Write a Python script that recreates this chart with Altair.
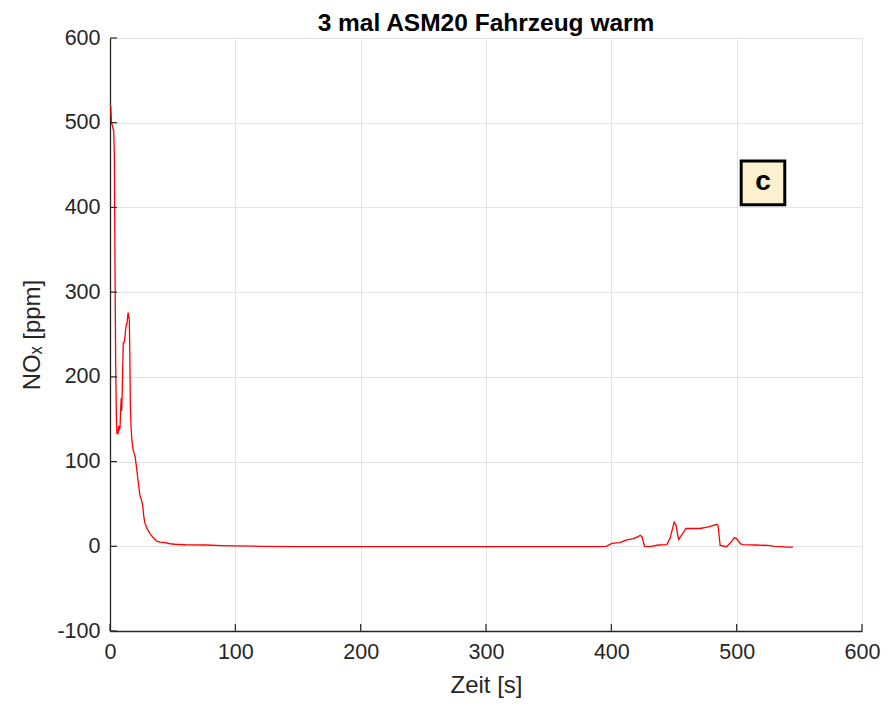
import altair as alt
import pandas as pd

# --- data ---
time_s = [0.6, 1.2, 2.3, 3.0, 3.5, 4.0, 4.5, 5.0, 5.5, 6.0, 6.4, 6.9, 7.4, 8.0, 8.6, 9.0, 9.3, 9.7,
          10.2, 10.6, 11.2, 11.8, 12.4, 13.0, 13.5, 14.0, 14.5, 15.0, 15.4, 15.8, 16.2, 16.8, 17.5,
          18.4, 19.2, 20.0, 21.0, 22.6, 23.9, 24.8, 25.9, 27.0, 27.9, 29.9, 31.9, 34.5, 37.2, 40.0,
          43.9, 47.9, 51.9, 60, 75.8, 90, 100, 120, 150, 200, 250, 300, 340, 360, 380, 390, 396,
          400.4, 407, 411, 417.6, 421, 423, 424.5, 426.5, 431, 437.6, 444.3, 447, 450.1, 451.6, 453,
          453.8, 455.4, 457.5, 459.4, 465, 470.9, 477.5, 484.2, 485.2, 486.8, 492, 496.2, 498, 500,
          502.8, 505, 515, 525, 530, 535, 540, 545]
nox_ppm = [520, 500, 494, 490, 460, 330, 220, 160, 133, 138, 132, 142, 138, 140, 165, 175, 160, 178,
           215, 240, 240, 245, 255, 262, 262, 270, 276, 270, 268, 230, 170, 140, 125,
           114, 110, 106, 95, 75, 60, 56, 50, 35, 27, 20, 15, 10, 6, 5,
           4.3, 3, 2.4, 1.8, 1.5, 0.8, 0.5, 0, -0.3, -0.5, -0.5, -0.5, -0.5, -0.3, -0.5, -0.5, 0,
           3.5, 4.3, 7, 9, 11, 13, 11, 0, -0.5, 1.5, 2, 10, 28.6, 25, 13,
           8, 12, 16, 21, 21, 21, 23, 26, 24, 1, -0.5, 6, 10, 9,
           3, 2, 1.5, 1, 0, -0.5, -1, -1]

x_ticks = [0, 100, 200, 300, 400, 500, 600]
y_ticks = [-100, 0, 100, 200, 300, 400, 500, 600]

label_x = [521]
label_y = [429]
label_text = ["c"]

FONT = "Liberation Sans"
DARK = "#262626"

df = pd.DataFrame({"t": time_s, "nox": nox_ppm})

xscale = alt.Scale(domain=[0, 600], nice=False, zero=False)
yscale = alt.Scale(domain=[-100, 600], nice=False, zero=False)

line = alt.Chart(df).mark_line(color="#ff0000", strokeWidth=1.3, clip=True).encode(
    x=alt.X("t:Q", scale=xscale, title="Zeit [s]",
            axis=alt.Axis(values=x_ticks, grid=True, gridColor="#e3e3e3", gridWidth=1,
                          domainColor=DARK, domainWidth=1.3, tickSize=0, labelFlush=False,
                          labelExpr="'' + datum.value",
                          labelFont=FONT, labelFontSize=21.5, labelColor=DARK, labelPadding=10,
                          titleFont=FONT, titleFontSize=24, titleColor=DARK,
                          titleFontWeight="normal", titlePadding=11)),
    y=alt.Y("nox:Q", scale=yscale, title="NOₓ [ppm]",
            axis=alt.Axis(values=y_ticks, grid=True, gridColor="#e3e3e3", gridWidth=1,
                          domainColor=DARK, domainWidth=1.3, tickSize=0, labelFlush=False,
                          labelExpr="'' + datum.value",
                          labelFont=FONT, labelFontSize=21.5, labelColor=DARK, labelPadding=10,
                          titleFont=FONT, titleFontSize=24, titleColor=DARK,
                          titleFontWeight="normal", titlePadding=12)),
)

xt = pd.DataFrame({"v": x_ticks})
yt = pd.DataFrame({"v": y_ticks})

xtick_marks = alt.Chart(xt).mark_rule(color=DARK, strokeWidth=1.2).encode(
    x=alt.X("v:Q", scale=xscale), y=alt.value(593), y2=alt.value(586))
ytick_marks = alt.Chart(yt).mark_rule(color=DARK, strokeWidth=1.2).encode(
    y=alt.Y("v:Q", scale=yscale), x=alt.value(0), x2=alt.value(7))

lab = pd.DataFrame({"x": label_x, "y": label_y, "text": label_text})
box = alt.Chart(lab).mark_square(size=1900, filled=True, color="#fbf0cf",
                                 stroke="black", strokeWidth=3, opacity=1).encode(
    x=alt.X("x:Q", scale=xscale), y=alt.Y("y:Q", scale=yscale))
txt = alt.Chart(lab).mark_text(font=FONT, fontSize=28, fontWeight="bold", color="black",
                               dy=-1).encode(
    x=alt.X("x:Q", scale=xscale), y=alt.Y("y:Q", scale=yscale), text="text:N")

chart = alt.layer(line, xtick_marks, ytick_marks, box, txt).properties(
    width=752, height=593,
    title=alt.TitleParams("3 mal ASM20 Fahrzeug warm", font=FONT, fontSize=24.5,
                          fontWeight="bold", color="black", anchor="middle",
                          frame="group", offset=6, dy=15),
    autosize=alt.AutoSizeParams(type="none"),
    padding={"left": 110, "top": 38, "right": 25, "bottom": 79},
).configure_view(stroke="#d6d6d6", strokeWidth=1).configure(background="white")

chart.save("out.html", embed_options={"renderer": "svg", "actions": False})
